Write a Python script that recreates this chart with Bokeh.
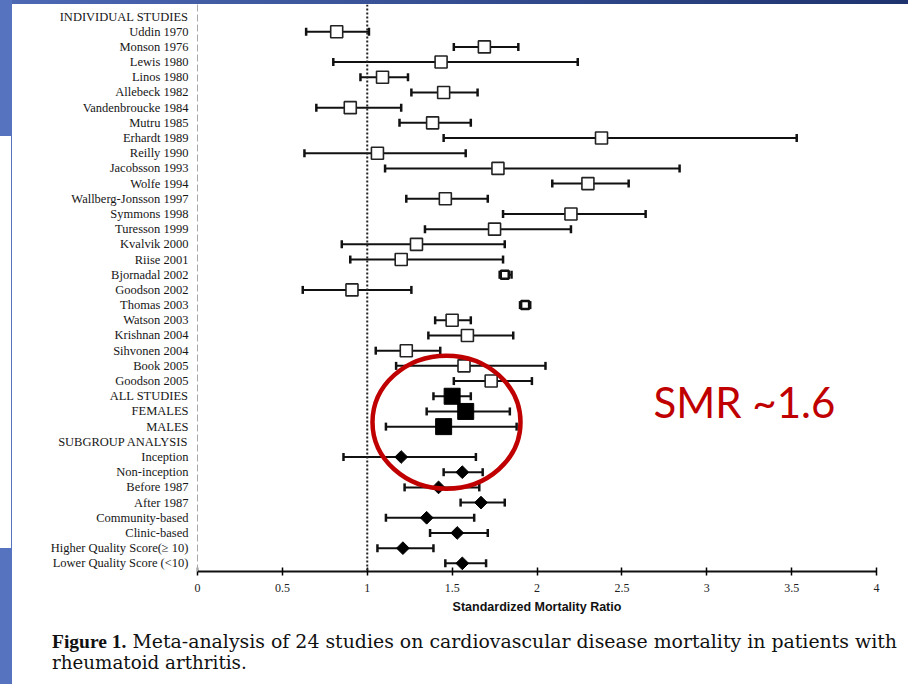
import math
from bokeh.plotting import figure
from bokeh.models import Range1d, FixedTicker, Span, Label, Div
from bokeh.layouts import row, column
from bokeh.embed import file_html
from bokeh.resources import INLINE

# ---------------- data ----------------
row_labels = [
    "INDIVIDUAL STUDIES", "Uddin 1970", "Monson 1976", "Lewis 1980", "Linos 1980",
    "Allebeck 1982", "Vandenbroucke 1984", "Mutru 1985", "Erhardt 1989", "Reilly 1990",
    "Jacobsson 1993", "Wolfe 1994", "Wallberg-Jonsson 1997", "Symmons 1998",
    "Turesson 1999", "Kvalvik 2000", "Riise 2001", "Bjornadal 2002", "Goodson 2002",
    "Thomas 2003", "Watson 2003", "Krishnan 2004", "Sihvonen 2004", "Book 2005",
    "Goodson 2005", "ALL STUDIES", "FEMALES", "MALES", "SUBGROUP ANALYSIS",
    "Inception", "Non-inception", "Before 1987", "After 1987", "Community-based",
    "Clinic-based", "Higher Quality Score(\u2265 10)", "Lower Quality Score (<10)",
]

study_names = row_labels[1:25]
study_smr = [0.82, 1.69, 1.435, 1.09, 1.45, 0.90, 1.385, 2.38, 1.06, 1.77, 2.30, 1.46,
             2.20, 1.75, 1.29, 1.20, 1.81, 0.91, 1.93, 1.50, 1.59, 1.23, 1.57, 1.73]
study_lo = [0.64, 1.51, 0.80, 0.96, 1.26, 0.70, 1.19, 1.45, 0.63, 1.105, 2.09, 1.23,
            1.80, 1.34, 0.85, 0.90, 1.78, 0.62, 1.90, 1.40, 1.36, 1.05, 1.17, 1.51]
study_hi = [1.01, 1.89, 2.24, 1.24, 1.65, 1.20, 1.61, 3.53, 1.58, 2.84, 2.54, 1.71,
            2.64, 2.20, 1.81, 1.80, 1.85, 1.26, 1.96, 1.61, 1.86, 1.43, 2.05, 1.97]

pooled_names = ["ALL STUDIES", "FEMALES", "MALES"]
pooled_smr = [1.50, 1.58, 1.45]
pooled_lo = [1.39, 1.35, 1.11]
pooled_hi = [1.61, 1.84, 1.88]

sub_names = row_labels[29:37]
sub_smr = [1.20, 1.56, 1.42, 1.67, 1.35, 1.53, 1.21, 1.56]
sub_lo = [0.86, 1.45, 1.22, 1.55, 1.11, 1.37, 1.06, 1.46]
sub_hi = [1.64, 1.68, 1.66, 1.81, 1.63, 1.71, 1.39, 1.70]

x_ticks = [0, 0.5, 1, 1.5, 2, 2.5, 3, 3.5, 4]
x_tick_labels = ["0", "0.5", "1", "1.5", "2", "2.5", "3", "3.5", "4"]
null_value = 1

x_title = "Standardized Mortality Ratio"
caption_bold = "Figure 1."
caption_line1 = "Meta-analysis of 24 studies on cardiovascular disease mortality in patients with"
caption_line2 = "rheumatoid arthritis."
callout = "SMR ~1.6"

# ---------------- page layout (page pixels) ----------------
PAGE_W, PAGE_H = 908, 684
BAR_W = 12          # left slide bar strip
TOP_H = 4           # top slide bar strip
CAP_H = 64          # caption strip height
MAIN_W = PAGE_W - BAR_W
MAIN_H = PAGE_H - TOP_H - CAP_H

frame_left_pg, frame_right_pg = 197.0, 876.0
frame_top_pg, frame_bottom_pg = float(TOP_H), 571.0
row1_pg, row_step = 16.0, 15.19
xr_start, xr_end = 0.0, 4.0
px_per_x = (frame_right_pg - frame_left_pg) / (xr_end - xr_start)


def px2x(pg):
    return xr_start + (pg - frame_left_pg) / px_per_x


def py2y(pg):
    return 1 + (pg - row1_pg) / row_step


bar_color = "#5673C0"
serif = "Liberation Serif"

# ---------------- main forest plot ----------------
p = figure(width=MAIN_W, height=MAIN_H, output_backend="svg", toolbar_location=None,
           x_range=Range1d(xr_start, xr_end),
           y_range=Range1d(py2y(frame_bottom_pg), py2y(frame_top_pg)),
           min_border_left=int(round(frame_left_pg - BAR_W)),
           min_border_right=int(round(PAGE_W - frame_right_pg)),
           min_border_top=0,
           min_border_bottom=int(round(TOP_H + MAIN_H - frame_bottom_pg)),
           background_fill_color="white", border_fill_color="white")
p.outline_line_color = None
p.grid.visible = False

xa = p.xaxis[0]
xa.ticker = FixedTicker(ticks=x_ticks)
xa.major_label_overrides = {t: l for t, l in zip(x_ticks, x_tick_labels)}
xa.minor_tick_line_color = None
xa.major_tick_in = 4
xa.major_tick_out = 4
xa.major_tick_line_width = 1.5
xa.axis_line_width = 2
xa.axis_line_color = "#111111"
xa.major_label_text_font = serif
xa.major_label_text_font_size = "12px"
xa.major_label_text_color = "#222222"
xa.major_label_standoff = 8
xa.axis_label = x_title
xa.axis_label_text_font = "Liberation Sans"
xa.axis_label_text_font_style = "bold"
xa.axis_label_text_font_size = "12.5px"
xa.axis_label_text_color = "#111111"
xa.axis_label_standoff = 5

ya = p.yaxis[0]
rows = list(range(1, len(row_labels) + 1))
ya.ticker = FixedTicker(ticks=rows)
ya.major_label_overrides = {r: l for r, l in zip(rows, row_labels)}
ya.minor_tick_line_color = None
ya.major_tick_line_color = None
ya.axis_line_color = "#aaaaaa"
ya.axis_line_dash = "7 3"
ya.major_label_text_font = serif
ya.major_label_text_font_size = "12.5px"
ya.major_label_text_color = "#161616"
ya.major_label_standoff = 3

p.add_layout(Span(location=null_value, dimension="height", line_color="#222222",
                  line_width=2, line_dash="2 2"))


def rows_of(names):
    return [row_labels.index(n) + 1 for n in names]


def draw_ci(names, lo, hi):
    y = rows_of(names)
    p.segment(x0=lo, x1=hi, y0=y, y1=y, line_color="#111111", line_width=2)
    p.scatter(x=lo + hi, y=y + y, marker="dash", angle=math.pi / 2, size=8,
              line_color="#111111", line_width=2.5)


draw_ci(study_names, study_lo, study_hi)
sy = rows_of(study_names)
wide = [i for i in range(len(study_names)) if study_hi[i] - study_lo[i] > 0.1]
narrow = [i for i in range(len(study_names)) if study_hi[i] - study_lo[i] <= 0.1]
p.scatter(x=[study_smr[i] for i in wide], y=[sy[i] for i in wide], marker="square",
          size=12, fill_color="white", line_color="#222222", line_width=1.6)
p.scatter(x=[study_smr[i] for i in narrow], y=[sy[i] for i in narrow], marker="square",
          size=8, fill_color="white", line_color="#111111", line_width=2.5)

draw_ci(pooled_names, pooled_lo, pooled_hi)
p.scatter(x=pooled_smr, y=rows_of(pooled_names), marker="square", size=16,
          fill_color="#000000", line_color="#000000")

draw_ci(sub_names, sub_lo, sub_hi)
p.scatter(x=sub_smr, y=rows_of(sub_names), marker="square", angle=math.pi / 4, size=9,
          fill_color="#000000", line_color="#000000")

# red highlight ellipse
ell_cx_pg, ell_cy_pg, ell_w_pg, ell_h_pg = 446.0, 421.7, 148.0, 133.0
p.ellipse(x=[px2x(ell_cx_pg)], y=[py2y(ell_cy_pg)], width=[ell_w_pg / px_per_x],
          height=[ell_h_pg / row_step], fill_color=None, line_color="#C00000", line_width=4.5)

p.add_layout(Label(x=px2x(653), y=py2y(401), text=callout, text_color="#C00000",
                   text_font="Lato", text_font_size="42px", text_baseline="middle",
                   text_align="left"))

# ---------------- slide decoration and caption (HTML) ----------------
top = Div(text="", width=MAIN_W, height=TOP_H, margin=0,
          styles={"background": "linear-gradient(to right, #4d69b4, #1e336e)"})

bar_html = (
    '<div style="position:relative;width:%dpx;height:%dpx;">'
    '<div style="position:absolute;left:0;top:0;width:%dpx;height:136px;background:%s;"></div>'
    '<div style="position:absolute;left:%dpx;top:136px;width:1.3px;height:412px;background:%s;"></div>'
    '<div style="position:absolute;left:0;top:548px;width:%dpx;height:%dpx;background:%s;"></div>'
    '</div>' % (BAR_W, PAGE_H, BAR_W, bar_color, BAR_W - 1, bar_color, BAR_W, PAGE_H - 548, bar_color)
)
bar = Div(text=bar_html, width=BAR_W, height=PAGE_H, margin=0)

cap_html = (
    '<div style="position:relative;width:%dpx;height:%dpx;">'
    '<div style="position:absolute;left:%dpx;top:%dpx;white-space:nowrap;'
    'font-family:\'DejaVu Serif\';font-size:18.9px;line-height:21px;color:#111;">'
    '<b style="font-family:\'Liberation Serif\';font-size:19.5px;">%s</b> %s<br>'
    '<span style="font-size:18.3px;">%s</span></div></div>'
    % (MAIN_W, CAP_H, 52 - BAR_W, 11, caption_bold, caption_line1, caption_line2)
)
cap = Div(text=cap_html, width=MAIN_W, height=CAP_H, margin=0)

layout = row(bar, column(top, p, cap, spacing=0), spacing=0)
open("out.html", "w").write(file_html(layout, INLINE))
